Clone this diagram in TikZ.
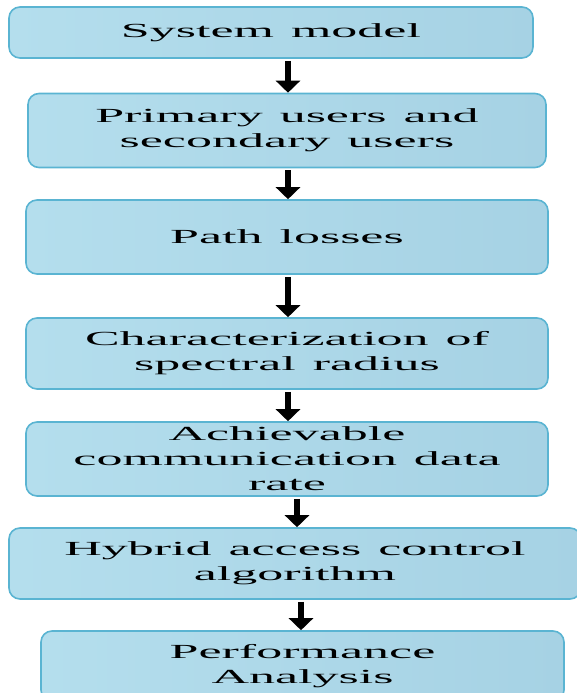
\documentclass[tikz,border=0pt]{standalone}
\usepackage{fontspec}
\setmainfont[FakeStretch=2.6]{Liberation Serif}
\usetikzlibrary{arrows.meta}
\definecolor{boxedge}{HTML}{5AB4D2}
\definecolor{boxfillA}{HTML}{B4DEED}
\definecolor{boxfillB}{HTML}{A6D2E4}
\newcommand\wsp{\hspace{17pt}}
\tikzset{
  flowbox/.style={draw=boxedge, line width=1.6pt, rounded corners=11pt,
    left color=boxfillA, right color=boxfillB, inner sep=0pt, align=center,
    font={\fontsize{20}{25}\selectfont}},
  flowarrow/.style={draw=black, line width=6.5pt,
    -{Triangle[width=24pt,length=12pt]}, shorten <=2pt}
}
\begin{document}
\begin{tikzpicture}[x=1pt,y=-1pt]
\useasboundingbox (0,0) rectangle (577,693);
\node[flowbox, minimum width=524pt, minimum height=51pt, text width=515pt] (b1) at (271,32.5) {System\wsp model};
\node[flowbox, minimum width=518pt, minimum height=74pt, text width=510pt] (b2) at (287,130.5) {Primary\wsp users\wsp and\\secondary\wsp users};
\node[flowbox, minimum width=522pt, minimum height=74pt, text width=510pt] (b3) at (287,237) {Path\wsp losses};
\node[flowbox, minimum width=522pt, minimum height=71pt, text width=510pt] (b4) at (287,353.5) {Characterization\wsp of\\spectral\wsp radius};
\node[flowbox, minimum width=522pt, minimum height=74pt, text width=515pt] (b5) at (287,459) {Achievable\\communication\wsp data\\rate};
\node[flowbox, minimum width=572pt, minimum height=71pt, text width=560pt] (b6) at (295,563.5) {Hybrid\wsp access\wsp control\\algorithm};
\node[flowbox, minimum width=523pt, minimum height=70pt, text width=510pt] (b7) at (302.5,666) {Performance\\Analysis};
\coordinate (ca) at (288,0);
\coordinate (cb) at (297,0);
\coordinate (cc) at (301,0);
\draw[flowarrow] (b1.south -| ca) -- (b2.north -| ca);
\draw[flowarrow] (b2.south -| ca) -- (b3.north -| ca);
\draw[flowarrow] (b3.south -| ca) -- (b4.north -| ca);
\draw[flowarrow] (b4.south -| ca) -- (b5.north -| ca);
\draw[flowarrow] (b5.south -| cb) -- (b6.north -| cb);
\draw[flowarrow] (b6.south -| cc) -- (b7.north -| cc);
\end{tikzpicture}
\end{document}
